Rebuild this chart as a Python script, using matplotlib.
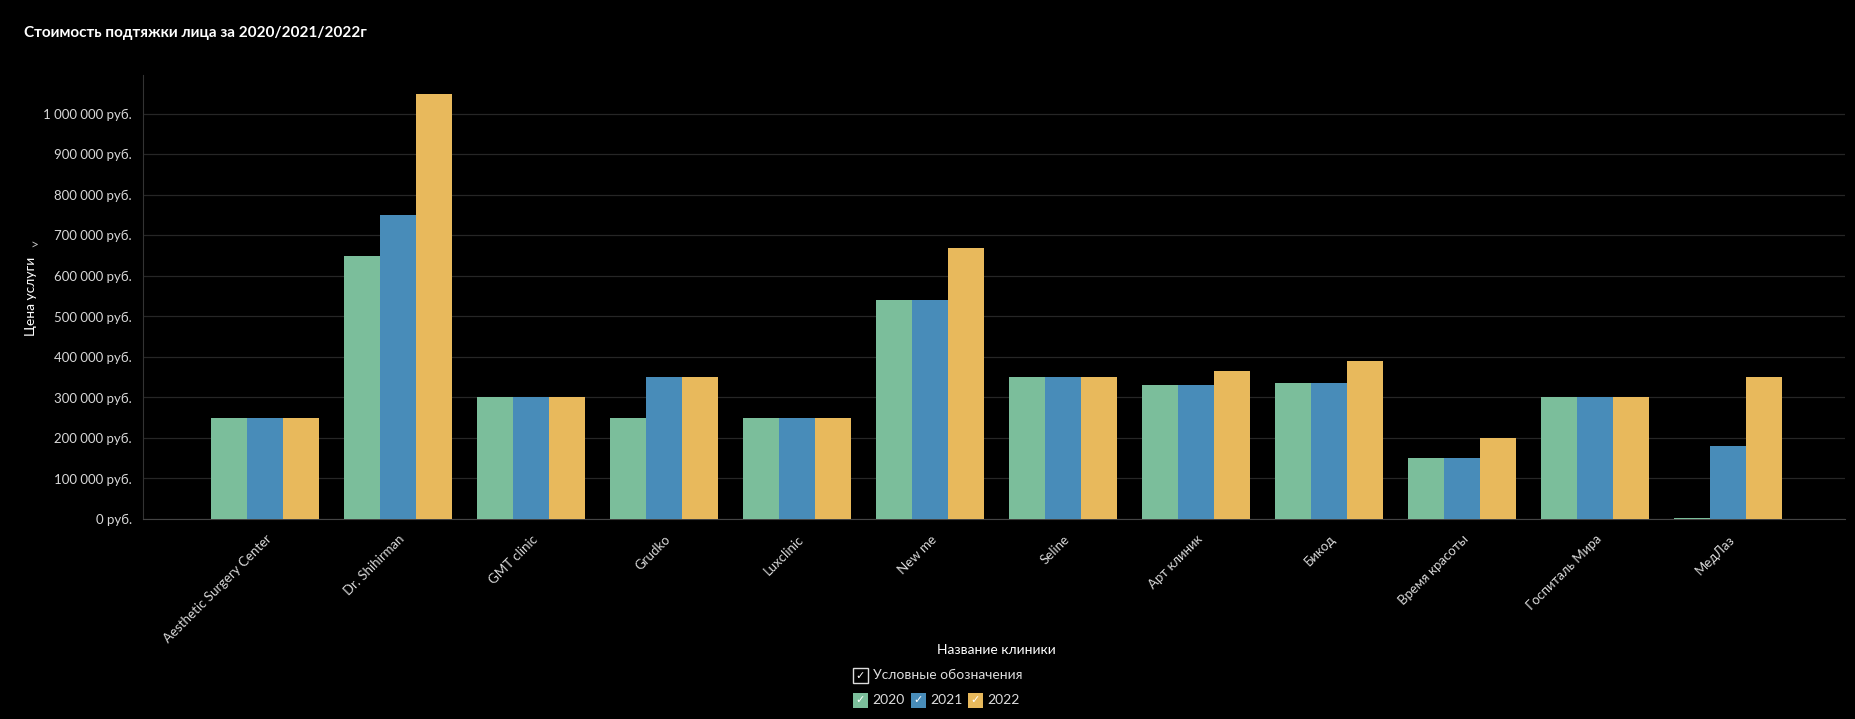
import matplotlib.pyplot as plt
from matplotlib.patches import Rectangle
from matplotlib.ticker import FuncFormatter, MultipleLocator
import numpy as np

# данные: стоимость подтяжки лица по клиникам
clinics = ["Aesthetic Surgery Center", "Dr. Shihirman", "GMT clinic", "Grudko",
           "Luxclinic", "New me", "Seline", "Арт клиник", "Бикод",
           "Время красоты", "Госпиталь Мира", "МедЛаз"]
years = ["2020", "2021", "2022"]
price_2020 = [250000, 650000, 300000, 250000, 250000, 540000, 350000,
              330000, 335000, 150000, 300000, 1500]
price_2021 = [250000, 750000, 300000, 350000, 250000, 540000, 350000,
              330000, 335000, 150000, 300000, 180000]
price_2022 = [250000, 1050000, 300000, 350000, 250000, 670000, 350000,
              365000, 390000, 200000, 300000, 350000]
colors = ["#7bbe9b", "#488cb9", "#e8b95c"]

plt.rcParams['font.family'] = ['Lato', 'DejaVu Sans']
bg = "#000000"
fig = plt.figure(figsize=(18.55, 7.19), dpi=100, facecolor=bg)
W, H = 1855, 719
ax = fig.add_axes([143 / W, 1 - 519 / H, (1845 - 143) / W, (519 - 75) / H])
ax.set_facecolor(bg)

x = np.arange(len(clinics))
bw = 0.27
for i, (vals, c, y) in enumerate(zip([price_2020, price_2021, price_2022], colors, years)):
    ax.bar(x + (i - 1) * bw, vals, width=bw, color=c, label=y, zorder=3)

ax.set_xlim(-0.92, 11.88)
ax.set_ylim(0, 1096000)
ax.yaxis.set_major_locator(MultipleLocator(100000))
ax.yaxis.set_major_formatter(FuncFormatter(
    lambda v, p: "{:,.0f} руб.".format(v).replace(",", " ")))
ax.grid(axis='y', color="#262626", linewidth=0.9, zorder=0)

for s in ["top", "right"]:
    ax.spines[s].set_visible(False)
ax.spines["left"].set_color("#333333")
ax.spines["bottom"].set_color("#444444")

ax.tick_params(axis='y', length=0, pad=8, labelsize=9.5, labelcolor="#d8d8d8")
ax.tick_params(axis='x', length=0, pad=10, labelsize=9.5, labelcolor="#d8d8d8")
ax.set_xticks(x)
ax.set_xticklabels(clinics, rotation=45, ha='right', rotation_mode='anchor')

# подписи
fig.text(24 / W, 1 - 33 / H, "Стоимость подтяжки лица за 2020/2021/2022г",
         color="white", fontsize=11, fontweight='bold', va='center', ha='left')
fig.text(31 / W, 1 - 296 / H, "Цена услуги", color="white", fontsize=10,
         rotation=90, va='center', ha='center')
fig.text(34 / W, 1 - 245 / H, ">", color="#bbbbbb", fontsize=10,
         va='center', ha='center')
fig.text(996 / W, 1 - 650 / H, "Название клиники", color="white",
         fontsize=10, va='center', ha='center')

# легенда с галочками
fig.add_artist(Rectangle((853 / W, 1 - 683 / H), 15 / W, 15 / H,
                         transform=fig.transFigure, facecolor=bg,
                         edgecolor="#dddddd", linewidth=1))
fig.text(860.5 / W, 1 - 675.5 / H, "✓", color="white", fontsize=8,
         ha='center', va='center', family=['DejaVu Sans'])
fig.text(873 / W, 1 - 675 / H, "Условные обозначения", color="#dddddd",
         fontsize=10, va='center', ha='left')
sw_x = [853, 911, 968]
for sx, c, y in zip(sw_x, colors, years):
    fig.add_artist(Rectangle((sx / W, 1 - 708 / H), 15 / W, 15 / H,
                             transform=fig.transFigure, facecolor=c,
                             edgecolor='none'))
    fig.text((sx + 7.5) / W, 1 - 700.5 / H, "✓", color="white", fontsize=8,
             ha='center', va='center', family=['DejaVu Sans'])
    fig.text((sx + 19) / W, 1 - 700 / H, y, color="#dddddd", fontsize=10,
             va='center', ha='left')

plt.savefig("out.png", dpi=100, facecolor=bg)
